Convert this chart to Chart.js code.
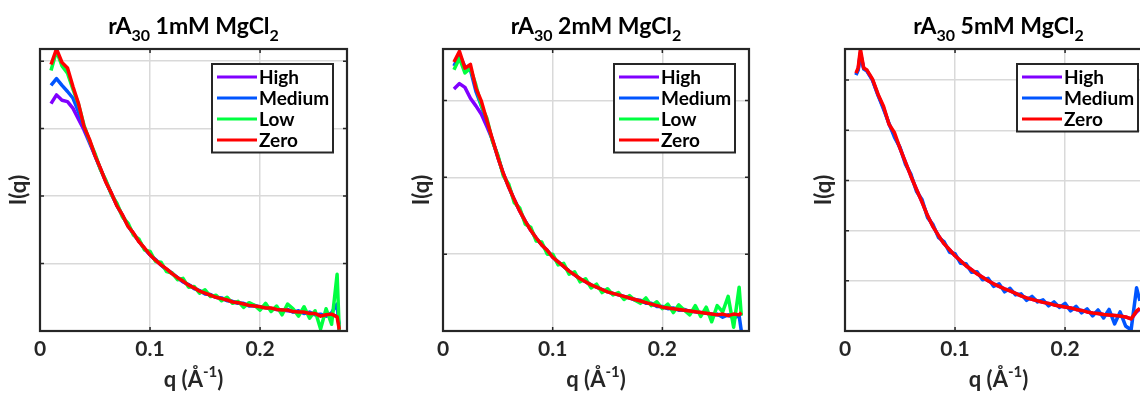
<!DOCTYPE html>
<html><head><meta charset="utf-8">
<script src="https://cdn.jsdelivr.net/npm/chart.js@4.4.0/dist/chart.umd.min.js"></script>
<style>
html,body{margin:0;padding:0;background:#fff;overflow:hidden;width:1140px;height:396px;position:relative;}
canvas{position:absolute;top:0;}
</style></head><body>
<canvas id="c1" width="380" height="396" style="left:0px"></canvas>
<canvas id="c2" width="380" height="396" style="left:380px"></canvas>
<canvas id="c3" width="420" height="396" style="left:760px"></canvas>
<script>
// ---------- text ----------
const title1 = ['rA', '30', ' 1mM MgCl', '2'];   // alternating normal / subscript
const title2 = ['rA', '30', ' 2mM MgCl', '2'];
const title3 = ['rA', '30', ' 5mM MgCl', '2'];
const xTitle = ['q (Å', '-1', ')'];              // alternating normal / superscript
const yTitle = 'I(q)';
const xTickLabels = ['0', '0.1', '0.2'];
const seriesNames = ['High', 'Medium', 'Low', 'Zero'];
const seriesColors = ['#8000FF', '#0055FF', '#00FF40', '#FF0000'];

// ---------- data ----------
const qA = [0.010,0.015,0.020,0.025,0.030,0.035,0.040,0.045,0.050,0.055,
            0.060,0.065,0.070,0.075,0.080,0.085,0.090,0.095,0.100,0.105,
            0.110,0.115,0.120,0.125,0.130,0.135,0.140,0.145,0.150,0.155,
            0.160,0.165,0.170,0.175,0.180,0.185,0.190,0.195,0.200,0.205,
            0.210,0.215,0.220,0.225,0.230,0.235,0.240,0.245,0.250,0.255,
            0.260,0.265,0.270,0.272];

// 1 mM
const high1 = [3.37,3.50,3.42,3.40,3.30,3.14,2.98,2.79,2.60,2.40,
               2.21,2.03,1.86,1.71,1.56,1.44,1.33,1.22,1.13,1.05,
               0.98,0.91,0.85,0.79,0.73,0.68,0.64,0.59,0.56,0.53,
               0.50,0.48,0.46,0.43,0.42,0.40,0.38,0.37,0.36,0.35,
               0.33,0.32,0.31,0.30,0.29,0.28,0.27,0.26,0.25,0.23,
               0.23,0.24,0.22,0.10];
const medium1 = [3.64,3.74,3.64,3.55,3.45,3.25,3.02,2.81,2.60,2.40,
                 2.21,2.03,1.86,1.71,1.56,1.44,1.33,1.22,1.13,1.06,
                 0.98,0.91,0.86,0.79,0.73,0.69,0.63,0.60,0.55,0.54,
                 0.50,0.49,0.45,0.44,0.41,0.41,0.37,0.38,0.35,0.35,
                 0.33,0.33,0.30,0.32,0.28,0.30,0.26,0.28,0.24,0.25,
                 0.22,0.27,0.40,0.00];
const low1 = [3.86,4.15,3.93,3.82,3.58,3.36,3.05,2.82,2.63,2.39,
              2.23,2.02,1.89,1.69,1.60,1.42,1.36,1.20,1.18,1.03,
              1.02,0.88,0.86,0.76,0.78,0.65,0.66,0.56,0.61,0.51,
              0.53,0.45,0.50,0.41,0.44,0.35,0.42,0.38,0.31,0.41,
              0.29,0.37,0.24,0.40,0.33,0.22,0.36,0.19,0.30,0.03,
              0.33,0.10,0.84,0.00];
const zero1 = [3.95,4.18,3.98,3.90,3.62,3.37,3.03,2.84,2.60,2.41,
               2.20,2.04,1.85,1.72,1.55,1.45,1.32,1.23,1.13,1.05,
               0.98,0.92,0.85,0.79,0.74,0.68,0.64,0.59,0.56,0.53,
               0.50,0.48,0.46,0.43,0.42,0.40,0.38,0.37,0.36,0.34,
               0.34,0.32,0.31,0.31,0.29,0.28,0.28,0.26,0.26,0.22,
               0.24,0.25,0.21,0.02];

// 2 mM
const high2 = [3.15,3.22,3.17,3.03,2.93,2.82,2.66,2.49,2.26,2.05,
               1.87,1.71,1.56,1.43,1.31,1.21,1.12,1.05,0.96,0.90,
               0.84,0.78,0.73,0.68,0.64,0.60,0.57,0.54,0.51,0.49,
               0.47,0.45,0.43,0.41,0.39,0.37,0.35,0.33,0.31,0.30,
               0.29,0.28,0.27,0.26,0.25,0.24,0.23,0.22,0.21,0.21,
               0.20,0.21,0.21,0.22];
const medium2 = [3.45,3.60,3.44,3.40,3.12,2.93,2.72,2.49,2.27,2.04,
                 1.88,1.70,1.57,1.42,1.32,1.20,1.13,1.04,0.97,0.89,
                 0.85,0.77,0.74,0.67,0.65,0.59,0.58,0.53,0.52,0.48,
                 0.48,0.44,0.44,0.40,0.40,0.36,0.36,0.32,0.32,0.29,
                 0.30,0.27,0.28,0.25,0.26,0.23,0.24,0.20,0.22,0.18,
                 0.21,0.17,0.20,0.00];
const low2 = [3.40,3.55,3.36,3.42,3.20,2.93,2.77,2.47,2.29,2.02,
              1.91,1.67,1.60,1.39,1.35,1.17,1.16,1.00,1.00,0.86,
              0.88,0.74,0.77,0.64,0.68,0.56,0.61,0.50,0.55,0.47,
              0.50,0.41,0.46,0.40,0.36,0.43,0.33,0.38,0.29,0.35,
              0.24,0.34,0.27,0.21,0.33,0.19,0.31,0.12,0.33,0.25,
              0.45,0.05,0.57,0.20];
const zero2 = [3.50,3.64,3.42,3.47,3.16,2.99,2.74,2.50,2.26,2.05,
               1.87,1.71,1.56,1.43,1.31,1.21,1.12,1.05,0.96,0.90,
               0.84,0.78,0.73,0.68,0.64,0.60,0.57,0.54,0.51,0.49,
               0.47,0.45,0.43,0.41,0.39,0.37,0.35,0.33,0.31,0.30,
               0.29,0.28,0.27,0.26,0.25,0.24,0.23,0.22,0.21,0.22,
               0.20,0.22,0.21,0.24];

// 5 mM
const qC = [0.010,0.012,0.014,0.017,0.020,0.025,0.030,0.035,0.040,0.045,
            0.050,0.055,0.060,0.065,0.070,0.075,0.080,0.085,0.090,0.095,
            0.100,0.105,0.110,0.115,0.120,0.125,0.130,0.135,0.140,0.145,
            0.150,0.155,0.160,0.165,0.170,0.175,0.180,0.185,0.190,0.195,
            0.200,0.205,0.210,0.215,0.220,0.225,0.230,0.235,0.240,0.245,
            0.250,0.255,0.260,0.265,0.268];
const high3 = [5.12,5.22,5.55,5.24,5.18,5.00,4.70,4.45,4.12,3.90,
               3.64,3.36,3.08,2.82,2.57,2.30,2.08,1.90,1.74,1.62,
               1.50,1.40,1.30,1.22,1.14,1.07,1.00,0.94,0.89,0.84,
               0.80,0.75,0.70,0.66,0.63,0.60,0.57,0.55,0.52,0.50,
               0.48,0.46,0.43,0.41,0.38,0.36,0.35,0.33,0.32,0.31,
               0.30,0.28,0.24,0.38,0.44];
const medium3 = [5.10,5.20,5.50,5.22,5.18,5.00,4.70,4.42,4.14,3.86,
                 3.66,3.32,3.12,2.78,2.62,2.26,2.12,1.86,1.78,1.57,
                 1.54,1.35,1.34,1.17,1.18,1.02,1.05,0.89,0.94,0.78,
                 0.85,0.72,0.74,0.61,0.69,0.58,0.62,0.50,0.58,0.47,
                 0.55,0.40,0.49,0.36,0.44,0.30,0.42,0.26,0.43,0.14,
                 0.38,0.10,0.02,0.86,0.60];
const zero3 = [5.14,5.25,5.62,5.24,5.20,5.02,4.72,4.48,4.12,3.95,
               3.64,3.36,3.08,2.82,2.57,2.30,2.08,1.90,1.74,1.62,
               1.50,1.40,1.30,1.22,1.14,1.07,1.00,0.94,0.89,0.84,
               0.80,0.75,0.70,0.66,0.63,0.60,0.57,0.55,0.52,0.50,
               0.48,0.46,0.43,0.41,0.38,0.36,0.35,0.33,0.32,0.31,
               0.30,0.28,0.24,0.40,0.45];

// ---------- drawing ----------
const FONT = 'Lato, "Open Sans", sans-serif';
const INK = '#262626';

function drawSegments(ctx, segs, cx, baseY, size, smallSize, shift) {
  let total = 0;
  const widths = segs.map((s, i) => {
    ctx.font = `bold ${i % 2 ? smallSize : size}px ${FONT}`;
    const w = ctx.measureText(s).width; total += w; return w;
  });
  let x = cx - total / 2;
  ctx.textAlign = 'left'; ctx.textBaseline = 'alphabetic';
  segs.forEach((s, i) => {
    ctx.font = `bold ${i % 2 ? smallSize : size}px ${FONT}`;
    ctx.fillText(s, x, baseY + (i % 2 ? shift : 0));
    x += widths[i];
  });
}

const framePlugin = {
  id: 'frame',
  afterDatasetsDraw(chart) {
    const o = chart.options.plugins.frame;
    const {ctx, chartArea: a, scales: {x, y}} = chart;
    ctx.save();
    ctx.strokeStyle = INK; ctx.lineWidth = 1.5;
    x.ticks.forEach(t => {
      const p = x.getPixelForValue(t.value);
      ctx.beginPath(); ctx.moveTo(p, a.top); ctx.lineTo(p, a.top + 4);
      ctx.moveTo(p, a.bottom); ctx.lineTo(p, a.bottom - 4); ctx.stroke();
    });
    y.ticks.forEach(t => {
      const p = y.getPixelForValue(t.value);
      ctx.beginPath(); ctx.moveTo(a.left, p); ctx.lineTo(a.left + 4, p);
      ctx.moveTo(a.right, p); ctx.lineTo(a.right - 4, p); ctx.stroke();
    });
    ctx.lineWidth = 2.2;
    ctx.strokeRect(a.left, a.top, a.right - a.left, a.bottom - a.top);
    // legend
    const ds = chart.data.datasets;
    const lw = 121, rowH = 21, lh = ds.length * rowH + 4.5;
    const lx = a.right - 14 - lw, ly = a.top + 15;
    ctx.fillStyle = '#fff'; ctx.fillRect(lx, ly, lw, lh);
    ctx.lineWidth = 2; ctx.strokeStyle = INK; ctx.strokeRect(lx, ly, lw, lh);
    ds.forEach((d, i) => {
      const cy = ly + 13 + i * rowH;
      ctx.strokeStyle = d.borderColor; ctx.lineWidth = 3;
      ctx.beginPath(); ctx.moveTo(lx + 5, cy); ctx.lineTo(lx + 45, cy); ctx.stroke();
      ctx.fillStyle = '#000'; ctx.font = `bold 19px ${FONT}`;
      ctx.textAlign = 'left'; ctx.textBaseline = 'middle';
      ctx.fillText(d.label, lx + 47, cy + 1);
    });
    const cx = (a.left + a.right) / 2;
    ctx.fillStyle = '#000';
    drawSegments(ctx, o.title, cx, 34, 23, 16, 7);
    ctx.fillStyle = INK;
    drawSegments(ctx, xTitle, cx, 387, 22, 15, -10);
    ctx.restore();
  }
};

function makeChart(id, q, seriesValues, yMax, areaLeft, areaRight, canvasW, titleSegs) {
  const orderMap = {High: 3, Medium: 2, Low: 1, Zero: 0};
  const datasets = seriesValues.map(s => {
    const idx = seriesNames.indexOf(s.name);
    return {
      label: s.name,
      data: q.map((qq, i) => ({x: qq, y: s.values[i]})),
      borderColor: seriesColors[idx],
      borderWidth: 3.5,
      pointRadius: 0,
      tension: 0,
      fill: false,
      order: orderMap[s.name],
      borderJoinStyle: 'round'
    };
  });
  return new Chart(document.getElementById(id), {
    type: 'line',
    data: {datasets},
    options: {
      responsive: false, animation: false, devicePixelRatio: 1,
      layout: {padding: {top: 49, left: 0, right: canvasW - areaRight, bottom: 0}},
      plugins: {legend: {display: false}, tooltip: {enabled: false}, frame: {title: titleSegs}},
      scales: {
        x: {
          type: 'linear', min: 0, max: 0.279,
          afterFit: s => { s.height = 65; },
          border: {display: false},
          grid: {color: '#d9d9d9', lineWidth: 1.5, drawTicks: false},
          ticks: {
            stepSize: 0.1, includeBounds: false, padding: 6, color: INK,
            font: {family: FONT, size: 21, weight: 'bold'},
            callback: v => xTickLabels[Math.round(v / 0.1)]
          }
        },
        y: {
          type: 'linear', min: 0, max: yMax,
          afterFit: s => { s.width = areaLeft; },
          border: {display: false},
          grid: {color: '#d9d9d9', lineWidth: 1.5, drawTicks: false},
          ticks: {display: false, stepSize: 1, includeBounds: false},
          title: {display: true, text: yTitle, color: INK,
                  font: {family: FONT, size: 22, weight: 'bold'},
                  padding: {top: areaLeft - 34, bottom: 0}}
        }
      }
    },
    plugins: [framePlugin]
  });
}

makeChart('c1', qA, [
  {name: 'High', values: high1}, {name: 'Medium', values: medium1},
  {name: 'Low', values: low1}, {name: 'Zero', values: zero1}
], 4.18, 40, 347, 380, title1);

makeChart('c2', qA, [
  {name: 'High', values: high2}, {name: 'Medium', values: medium2},
  {name: 'Low', values: low2}, {name: 'Zero', values: zero2}
], 3.67, 63, 369, 380, title2);

makeChart('c3', qC, [
  {name: 'High', values: high3}, {name: 'Medium', values: medium3},
  {name: 'Zero', values: zero3}
], 5.62, 85, 392, 420, title3);
</script>
</body></html>
